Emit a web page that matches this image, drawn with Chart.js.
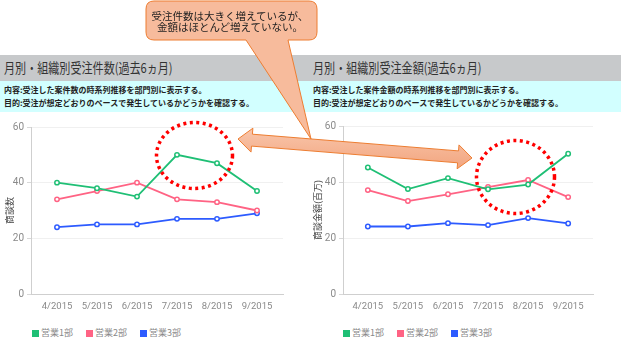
<!DOCTYPE html>
<html>
<head>
<meta charset="utf-8">
<script src="https://cdn.jsdelivr.net/npm/chart.js@4.4.0/dist/chart.umd.min.js"></script>
<style>
body { margin: 0; width: 621px; height: 338px; position: relative; overflow: hidden; background: #fff; font-family: "Noto Sans CJK JP", sans-serif; }
.band { position: absolute; left: 0; width: 621px; }
#gray { top: 55px; height: 26px; background: #c7c9cb; }
#cyan { top: 81px; height: 31px; background: #d2ffff; }
.title { position: absolute; top: 59px; font-size: 13.5px; line-height: 16px; color: #333; transform: scaleX(.82); transform-origin: left top; white-space: nowrap; }
.desc { position: absolute; font-size: 8px; line-height: 10px; color: #222; font-weight: bold; white-space: nowrap; }
.box { position: absolute; top: 113px; height: 199px; }
.legend { position: absolute; top: 328px; display: flex; font-size: 9px; color: #888; line-height: 10px; }
.legend span { display: flex; align-items: center; margin-right: 13px; }
.legend i { display: inline-block; width: 7px; height: 7px; margin-right: 2px; }
svg { position: absolute; left: 0; top: 0; }
</style>
</head>
<body>
<div class="band" id="gray"></div>
<div class="band" id="cyan"></div>
<div class="title" style="left:4px">月別・組織別受注件数(過去6ヵ月)</div>
<div class="title" style="left:313px">月別・組織別受注金額(過去6ヵ月)</div>
<div class="desc" style="left:4px;top:85px">内容:受注した案件数の時系列推移を部門別に表示する。</div>
<div class="desc" style="left:4px;top:98px">目的:受注が想定どおりのペースで発生しているかどうかを確認する。</div>
<div class="desc" style="left:313px;top:85px">内容:受注した案件金額の時系列推移を部門別に表示する。</div>
<div class="desc" style="left:313px;top:98px">目的:受注が想定どおりのペースで発生しているかどうかを確認する。</div>

<div class="box" style="left:0;width:300px"><canvas id="countChart"></canvas></div>
<div class="box" style="left:300px;width:321px"><canvas id="amountChart"></canvas></div>
<div class="legend" id="countLegend" style="left:32px"></div>
<div class="legend" id="amountLegend" style="left:343px"></div>

<svg id="notes" width="621" height="338"></svg>

<script>
const months = ['4/2015', '5/2015', '6/2015', '7/2015', '8/2015', '9/2015'];
const divisions = ['営業1部', '営業2部', '営業3部'];
const divisionColors = ['#1fbf75', '#ff6384', '#2d5bff'];

// 受注件数
const countSales1 = [40, 38, 35, 50, 47, 37];
const countSales2 = [34, 37, 40, 34, 33, 30];
const countSales3 = [24, 25, 25, 27, 27, 29];

// 受注金額(百万)
const amountSales1 = [45.2, 37.5, 41.4, 37.4, 39.1, 50.1];
const amountSales2 = [37.1, 33.2, 35.6, 38.2, 40.7, 34.6];
const amountSales3 = [24.1, 24.1, 25.3, 24.6, 27.1, 25.2];

const yMax = 60;
const yStep = 20;

function buildDatasets(seriesList) {
    return seriesList.map(function (values, i) {
        return {
            label: divisions[i],
            data: values.map((v, idx) => ({ x: idx, y: v })),
            borderColor: divisionColors[i],
            backgroundColor: divisionColors[i],
            pointBackgroundColor: '#fff',
            pointBorderColor: divisionColors[i],
            pointRadius: 2.2,
            pointBorderWidth: 1.5,
            borderWidth: 1.8,
            tension: 0
        };
    });
}

function makeChart(canvasId, yTitle, seriesList, cfg) {
    const ctx = document.getElementById(canvasId).getContext('2d');
    return new Chart(ctx, {
        type: 'line',
        data: { datasets: buildDatasets(seriesList) },
        options: {
            responsive: true,
            maintainAspectRatio: false,
            animation: false,
            layout: { padding: { top: cfg.padTop, right: cfg.padRight, left: 0, bottom: 0 } },
            plugins: { legend: { display: false }, tooltip: { enabled: false } },
            scales: {
                x: {
                    type: 'linear',
                    min: -cfg.xPad,
                    max: months.length - 1 + cfg.xPad,
                    afterFit: function (scale) { scale.height = 18; },
                    grid: { display: false, drawTicks: false },
                    border: { color: '#cfcfcf', width: 1 },
                    ticks: {
                        stepSize: 1,
                        includeBounds: false,
                        autoSkip: false,
                        maxRotation: 0,
                        padding: 7,
                        color: '#8a8a8a',
                        font: { size: 9.5, family: 'Roboto' },
                        callback: function (v) { return months[v] !== undefined && Number.isInteger(v) ? months[v] : ''; }
                    }
                },
                y: {
                    min: 0,
                    max: yMax,
                    afterFit: function (scale) { scale.width = cfg.axisWidth; },
                    grid: { color: '#f0f0f0', tickLength: 4, tickColor: '#d8d8d8' },
                    border: { color: '#cfcfcf', width: 1 },
                    ticks: { stepSize: yStep, padding: 3, color: '#8a8a8a', font: { size: 10, family: 'Roboto' } },
                    title: {
                        display: true,
                        text: yTitle,
                        color: '#444',
                        padding: { top: cfg.titlePad, bottom: 0 },
                        font: { size: 9, family: '"Noto Sans CJK JP"' }
                    }
                }
            }
        }
    });
}

function fillLegend(id) {
    const el = document.getElementById(id);
    divisions.forEach(function (name, i) {
        const item = document.createElement('span');
        item.innerHTML = '<i style="background:' + divisionColors[i] + '"></i>' + name;
        el.appendChild(item);
    });
}

makeChart('countChart', '商談数', [countSales1, countSales2, countSales3],
    { axisWidth: 31, padRight: 17, padTop: 14, xPad: 0.65, titlePad: 4 });
makeChart('amountChart', '商談金額(百万)', [amountSales1, amountSales2, amountSales3],
    { axisWidth: 43, padRight: 28, padTop: 13, xPad: 0.62, titlePad: 12 });
fillLegend('countLegend');
fillLegend('amountLegend');

// callout, double arrow and dotted rings on top
const NS = 'http://www.w3.org/2000/svg';
const svg = document.getElementById('notes');

function add(tag, attrs, text) {
    const el = document.createElementNS(NS, tag);
    for (const k in attrs) el.setAttribute(k, attrs[k]);
    if (text) el.textContent = text;
    svg.appendChild(el);
    return el;
}

const defs = add('defs', {});
defs.innerHTML =
    '<linearGradient id="salmon" x1="0" y1="0" x2="0" y2="1">' +
    '<stop offset="0" stop-color="#f9c6ab"/><stop offset="1" stop-color="#f2a57f"/></linearGradient>';

// double-headed block arrow between two tips
function arrowPath(ax, ay, bx, by, shaft, head, headLen) {
    const len = Math.hypot(bx - ax, by - ay);
    const ux = (bx - ax) / len, uy = (by - ay) / len;
    const nx = -uy, ny = ux;
    const pt = (d, off) => (ax + ux * d + nx * off).toFixed(1) + ',' + (ay + uy * d + ny * off).toFixed(1);
    return 'M' + [
        pt(0, 0), pt(headLen, -head), pt(headLen, -shaft), pt(len - headLen, -shaft),
        pt(len - headLen, -head), pt(len, 0), pt(len - headLen, head), pt(len - headLen, shaft),
        pt(headLen, shaft), pt(headLen, head)
    ].join(' L') + ' Z';
}
add('path', { d: arrowPath(238, 139, 472, 158, 6, 12, 14), fill: 'url(#salmon)', stroke: '#ed7d31', 'stroke-width': 1 });

add('path', {
    d: 'M154,1 H309 Q317,1 317,9 V32 Q317,40 309,40 H288 L311,139 L246,40 H154 Q146,40 146,32 V9 Q146,1 154,1 Z',
    fill: '#f7bb9c', stroke: '#ed7d31', 'stroke-width': 1
});
add('text', { x: 230, y: 20, 'text-anchor': 'middle', 'font-size': 10.5, fill: '#222', 'letter-spacing': 0 }, '受注件数は大きく増えているが、');
add('text', { x: 230, y: 31, 'text-anchor': 'middle', 'font-size': 10.5, fill: '#222', 'letter-spacing': 0 }, '金額はほとんど増えていない。');

const ring = { fill: 'none', stroke: '#ff0000', 'stroke-width': 3.5, 'stroke-dasharray': '3 3.5' };
add('ellipse', Object.assign({ cx: 194.5, cy: 155.5, rx: 38, ry: 33 }, ring));
add('ellipse', Object.assign({ cx: 515.5, cy: 177, rx: 39, ry: 36.5 }, ring));
</script>
</body>
</html>
